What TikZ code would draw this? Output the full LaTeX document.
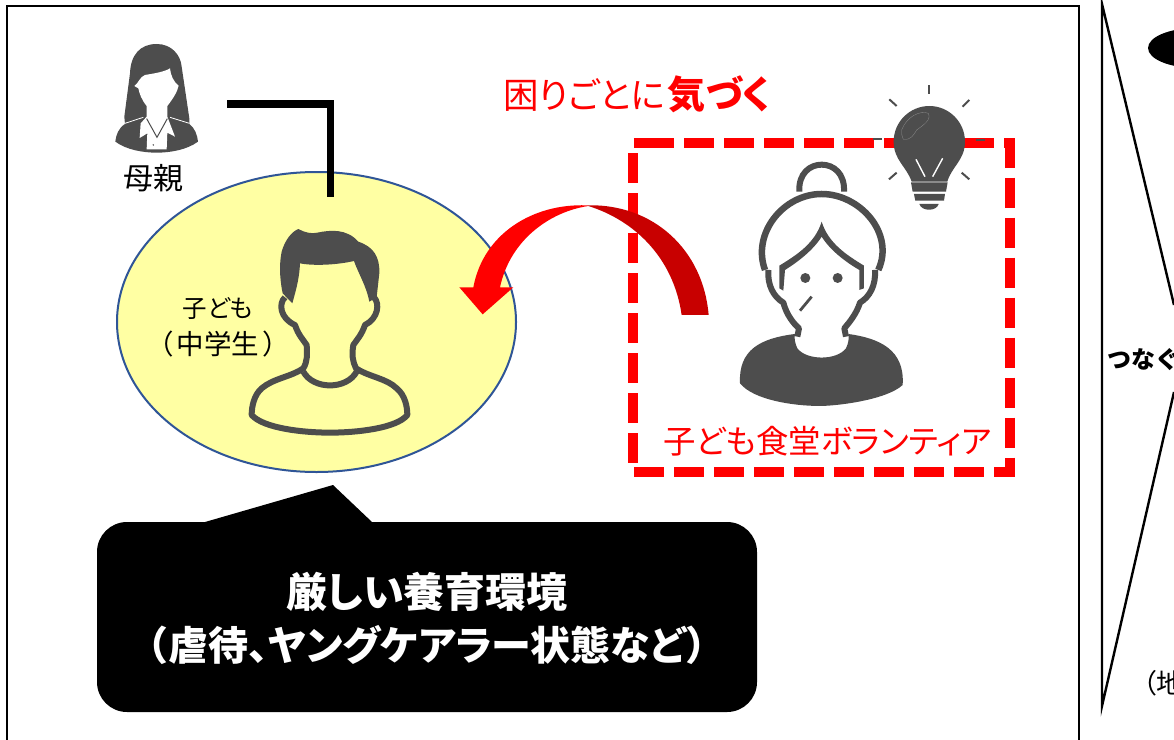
\documentclass[tikz,border=0pt]{standalone}
\usepackage{fontspec}
\usetikzlibrary{shapes.geometric}
\setmainfont{Noto Sans CJK JP}[RawFeature=+palt]
\newfontfamily\fw{Noto Sans CJK JP}
\definecolor{dk}{HTML}{4D4D4D}
\definecolor{yel}{HTML}{FFFFA3}
\definecolor{edge}{HTML}{2F5597}
\definecolor{rd}{HTML}{FF0000}
\definecolor{drd}{HTML}{C80000}
\tikzset{
  txt/.style={inner sep=0pt,align=center},
  ray/.style={draw=dk,line width=2pt},
}
\begin{document}
\begin{tikzpicture}[x=1pt,y=-1pt]
\useasboundingbox (0,0) rectangle (1174,739);
\begin{scope}
\clip (0,0) rectangle (1174,739);
\fill[white] (0,0) rectangle (1174,739);
% frame
\draw[black,line width=2.6pt] (7,6) rectangle (1079,760);
% right triangle
\draw[black,line width=2.4pt,line join=miter] (1174,305) -- (1102,4) -- (1102,706) -- (1174,392);
\fill[black] (1196,48) ellipse (48 and 20);
\node[txt,anchor=west,font=\fw\bfseries\fontsize{24}{26}\selectfont] (tsunagu) at (1107,360) {つなぐ};
\node[txt,anchor=west,font=\fontsize{27}{30}\selectfont] (chi) at (1143,683) {（地域};
% ellipse
\node[ellipse,draw=edge,fill=yel,line width=2pt,minimum width=399pt,minimum height=300pt,inner sep=0pt] (child) at (316.5,322) {};
% connector
\coordinate (lstart) at (227,104);
\coordinate (lend) at (330.5,197);
\draw[black,line width=7.6pt,line cap=butt,line join=miter] (lstart) -| (lend);
% mother
\begin{scope}[shift={(90,20)},x=.3333pt,y=-.3333pt]
\fill[dk] (200,72) .. controls (150,72) and (122,105) .. (120,160) -- (103,290) -- (105,312)
  .. controls (85,325) and (78,345) .. (76,365) .. controls (110,390) and (160,398) .. (200,398)
  .. controls (240,398) and (290,390) .. (324,365) .. controls (322,345) and (315,325) .. (298,312)
  -- (298,295) -- (275,140) .. controls (272,105) and (245,72) .. (200,72) -- cycle;
\fill[white] (133,198) .. controls (145,190) and (150,170) .. (165,165) .. controls (195,160) and (225,155) .. (240,145)
  .. controls (242,165) and (250,185) .. (266,197) .. controls (262,215) and (250,235) .. (232,258)
  -- (232,290) -- (255,350) -- (232,338) -- (230,388) -- (170,388) -- (172,340) -- (149,354) -- (152,310) -- (170,290) -- (170,258)
  .. controls (155,240) and (148,220) .. (145,205) -- cycle;
\draw[dk,line width=1pt] (170,296) -- (201,352) -- (232,296);
\fill[dk] (190,375) circle (2.5);
\draw[white,line width=.8pt] (105,310) -- (160,292);
\draw[white,line width=.8pt] (240,292) -- (298,310);
\end{scope}
\node[txt,font=\fontsize{30}{32}\selectfont] (mother) at (153,178) {母親};
% boy
\begin{scope}[shift={(230,210)},x=.3333pt,y=-.3333pt]
\fill[dk] (205,57) .. controls (225,68) and (245,72) .. (262,68) .. controls (300,60) and (350,55) .. (385,95)
  .. controls (430,110) and (450,140) .. (448,190) -- (440,262) -- (418,275)
  .. controls (410,230) and (385,190) .. (372,153) .. controls (320,165) and (250,168) .. (210,160)
  .. controls (208,210) and (195,250) .. (187,280) -- (158,250) .. controls (148,200) and (148,160) .. (155,125)
  .. controls (165,90) and (185,65) .. (205,57) -- cycle;
\draw[dk,line width=6pt,line join=round] (165,262) .. controls (145,280) and (150,325) .. (195,345)
  .. controls (205,375) and (220,390) .. (230,405) .. controls (232,435) and (232,455) .. (220,475)
  .. controls (185,500) and (130,505) .. (95,535) .. controls (72,555) and (65,590) .. (65,615)
  .. controls (100,655) and (220,668) .. (300,668) .. controls (380,668) and (500,655) .. (532,615)
  .. controls (532,590) and (525,555) .. (500,535) .. controls (470,505) and (415,500) .. (378,475)
  .. controls (368,455) and (365,435) .. (370,405) .. controls (380,390) and (395,375) .. (405,345)
  .. controls (445,325) and (450,280) .. (432,262);
\draw[dk,line width=6pt] (220,485) .. controls (250,540) and (350,540) .. (380,485);
\end{scope}
\node[txt,font=\fontsize{24.5}{30}\selectfont] (kodomo) at (218,309) {子ども};
\node[txt,font=\fontsize{27.5}{30}\selectfont] (grade) at (218,344) {（\hspace{4pt}中学生\hspace{4pt}）};
% dashed rect
\draw[rd,line width=10pt,dash pattern=on 30pt off 10pt,line join=miter] (644,143.3) -- (1009.7,143.3) -- (1009.7,471.7) -- (633,471.7) -- (633,143.3) -- (644,143.3);
% grandma
\begin{scope}[shift={(720,80)},x=.3333pt,y=-.3333pt]
\draw[dk,line width=6pt] (238,335) .. controls (235,280) and (270,254) .. (305,254) .. controls (340,254) and (375,280) .. (372,335);
\draw[dk,line width=6.5pt,line join=miter] (135,570) .. controls (95,460) and (190,342) .. (305,342) .. controls (420,342) and (525,460) .. (475,570);
\fill[dk] (178,625) -- (178,557) .. controls (230,525) and (285,490) .. (305,425)
  .. controls (325,490) and (380,525) .. (432,557) -- (432,625) -- (418,630) -- (418,570) .. controls (375,545) and (330,510) .. (305,470)
  .. controls (280,510) and (235,545) .. (195,570) -- (190,632) -- cycle;
\draw[dk,line width=6pt,line join=round] (145,570) .. controls (142,615) and (160,650) .. (190,668)
  .. controls (200,705) and (220,730) .. (237,745) -- (232,770);
\draw[dk,line width=6pt,line join=round] (465,570) .. controls (468,615) and (450,650) .. (420,668)
  .. controls (410,700) and (390,725) .. (373,745) -- (378,770);
\fill[dk] (60,910) .. controls (55,810) and (120,775) .. (225,762) .. controls (222,775) and (225,790) .. (232,805)
  .. controls (260,842) and (350,842) .. (378,805) .. controls (385,790) and (388,775) .. (385,762)
  .. controls (480,775) and (555,810) .. (548,915) .. controls (500,960) and (350,978) .. (300,978)
  .. controls (220,978) and (100,960) .. (60,910) -- cycle;
\fill[dk] (256,594) circle (15);
\fill[dk] (353,594) circle (15);
\draw[dk,line width=2.8pt] (240,692) -- (275,650);
% bulb
\fill[dk] (575,305) .. controls (560,260) and (521,240) .. (521,185) .. controls (521,125) and (570,78) .. (628,78)
  .. controls (686,78) and (735,125) .. (735,185) .. controls (735,240) and (695,260) .. (682,305) -- cycle;
\draw[white,line width=1.4pt] (588,238) -- (615,290);
\draw[white,line width=1.4pt] (668,235) -- (638,290);
\draw[black!45,line width=.3pt] (545,150) .. controls (560,110) and (600,90) .. (625,100) .. controls (635,120) and (610,135) .. (590,150) .. controls (580,165) and (575,180) .. (550,178) .. controls (545,170) and (545,160) .. (545,150) -- cycle;
\fill[dk] (573,307) -- (683,307) -- (678,335) -- (578,335) -- cycle;
\fill[dk] (582,342) -- (675,342) -- (672,362) -- (586,362) -- cycle;
\fill[dk] (598,372) -- (656,372) .. controls (650,395) and (605,395) .. (598,372) -- cycle;
\draw[ray] (628,15) -- (628,43);
\draw[ray] (508,58) -- (530,78);
\draw[ray] (748,60) -- (728,80);
\draw[ray] (530,278) -- (507,298);
\draw[ray] (725,278) -- (748,298);
\draw[ray] (460,177) -- (487,177);
\draw[ray] (768,179) -- (795,179);
\end{scope}
% curved arrow
\begin{scope}[shift={(440,190)},x=.3333pt,y=-.3333pt]
\fill[drd] (440,46) .. controls (640,40) and (790,180) .. (806,375) -- (725,375) .. controls (700,200) and (580,90) .. (445,48) -- cycle;
\fill[rd] (128,373) -- (58,292) -- (100,292) .. controls (130,130) and (280,40) .. (440,46) -- (445,48)
  .. controls (330,65) and (210,150) .. (180,292) -- (220,292) -- cycle;
\end{scope}
% labels
\node[txt,anchor=west,text=rd] (komari) at (503,94) {\fontsize{35.5}{42}\selectfont 困りごとに\fontsize{38}{42}\selectfont\hspace{3pt}\textbf{気づく}};
\node[txt,text=rd,font=\fontsize{32.4}{38}\selectfont] (vol) at (827.5,441) {子ども食堂ボランティア};
% callout
\fill[black] (205,522) -- (333,485) -- (372,522) -- (372,530) -- (205,530) -- cycle;
\node[fill=black,rounded corners=30pt,minimum width=660pt,minimum height=190pt,inner sep=0pt] (callout) at (427,617) {};
\node[txt,text=white,font=\bfseries\fontsize{41}{46}\selectfont] (harsh1) at (427,592) {厳しい養育環境};
\node[txt,text=white,font=\bfseries\fontsize{40}{46}\selectfont] (harsh2) at (427,645) {{\fw\bfseries（}虐待、ヤングケアラー状態など{\fw\bfseries）}};
\end{scope}
\end{tikzpicture}
\end{document}
